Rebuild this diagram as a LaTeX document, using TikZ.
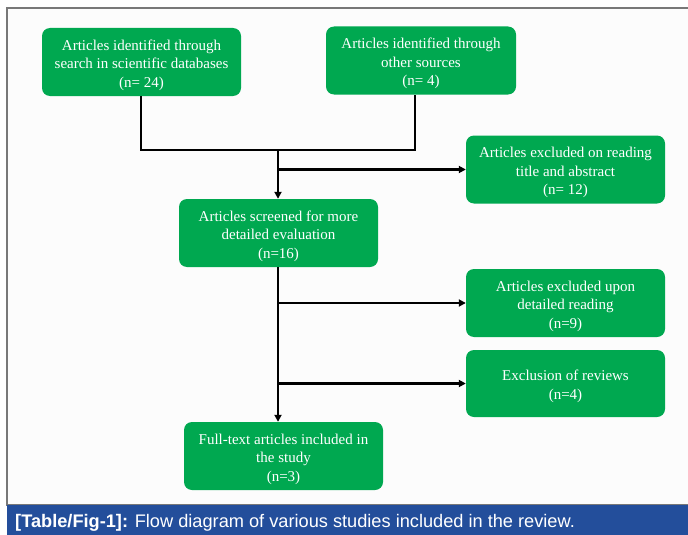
\documentclass[tikz,border=0pt]{standalone}
\usepackage{fontspec}
\setmainfont{Liberation Serif}
\newfontfamily\capfont{Liberation Sans}
\usetikzlibrary{arrows.meta}
\definecolor{boxgreen}{RGB}{0,168,80}
\definecolor{capblue}{RGB}{35,78,155}
\definecolor{framegray}{RGB}{120,120,120}
\definecolor{bgwhite}{RGB}{252,252,252}
\newcommand{\boxlines}[1]{\raisebox{-3pt}[\height][\depth]{\begin{tabular}{@{}c@{}}#1\end{tabular}}}
\begin{document}
\begin{tikzpicture}[x=1pt,y=-1pt,
  flowbox/.style={draw=none,fill=boxgreen,rounded corners=8pt,text=white,
    minimum width=199pt,minimum height=68pt,
    inner sep=0pt,font=\fontsize{15}{18.7}\selectfont},
  conn/.style={line width=2.6pt,black},
  arr/.style={conn,-{Triangle[length=7pt,width=7pt]}}]
\useasboundingbox (0,0) rectangle (688,535);
\fill[white] (0,0) rectangle (688,535);
\draw[framegray,line width=1.6pt,fill=bgwhite] (7,8) rectangle (700,505);
\fill[capblue] (7,505) rectangle (688,535);
\node[anchor=base west,text=white,inner sep=0pt,font=\capfont\fontsize{18.2}{21}\selectfont] (cap) at (15,527)
  {\textbf{[Table/Fig-1]:} Flow diagram of various studies included in the review.};
\node[flowbox] (b1) at (141.5,62) {\boxlines{Articles identified through\\search in scientific databases\\(n= 24)}};
\node[flowbox,minimum width=190pt] (b2) at (421,60.5) {\boxlines{Articles identified through\\other sources\\(n= 4)}};
\node[flowbox] (ex1) at (565.5,169.5) {\boxlines{Articles excluded on reading\\title and abstract\\(n= 12)}};
\node[flowbox] (scr) at (278.5,233) {\boxlines{Articles screened for more\\detailed evaluation\\(n=16)}};
\node[flowbox] (ex2) at (565.5,303) {\boxlines{Articles excluded upon\\detailed reading\\(n=9)}};
\node[flowbox,minimum height=67pt] (rev) at (565.5,383.5) {\boxlines{Exclusion of reviews\\(n=4)}};
\node[flowbox] (full) at (283.5,456) {\boxlines{Full-text articles included in\\the study\\(n=3)}};
\coordinate (jL) at (141,150);
\coordinate (jR) at (415,150);
\coordinate (jM) at (278,150);
\coordinate (s1) at (278,169.5);
\coordinate (s2) at (278,303);
\coordinate (s3) at (278,383.5);
\draw[conn] (b1.south -| jL) -- (jL) -- (jR) -- (b2.south -| jR);
\draw[arr] (jM) -- (scr.north -| jM);
\draw[arr] (s1) -- (ex1.west);
\draw[arr] (scr.south -| jM) -- (full.north -| jM);
\draw[arr] (s2) -- (ex2.west);
\draw[arr] (s3) -- (rev.west);
\end{tikzpicture}
\end{document}
